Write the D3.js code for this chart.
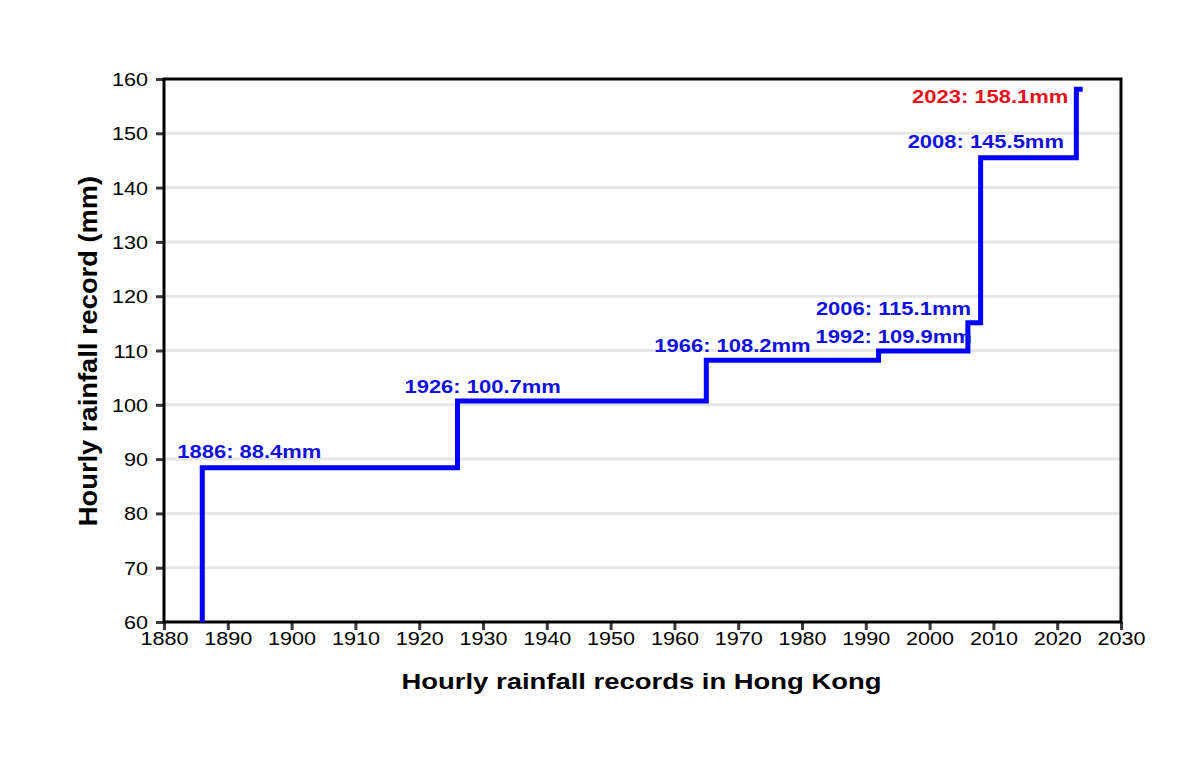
<!DOCTYPE html>
<html>
<head>
<meta charset="utf-8">
<script src="https://cdn.jsdelivr.net/npm/d3@7"></script>
<style>
  html, body { margin: 0; padding: 0; background: #fff; }
  svg { display: block; font-family: "Liberation Sans", Arial, sans-serif; }
</style>
</head>
<body>
<svg id="chart" width="1200" height="774"></svg>
<script>
// ---- data ----
const recordYears = [1886, 1926, 1966, 1992, 2006, 2008, 2023];   // label years
const stepYears   = [1886, 1926, 1965, 1992, 2006, 2008, 2023];   // where the step is drawn
const recordValues = [88.4, 100.7, 108.2, 109.9, 115.1, 145.5, 158.1];
const startValue = 60;
const endYear = 2024;
const xTicks = [1880, 1890, 1900, 1910, 1920, 1930, 1940, 1950, 1960, 1970, 1980, 1990, 2000, 2010, 2020, 2030];
const yTicks = [60, 70, 80, 90, 100, 110, 120, 130, 140, 150, 160];
const xTitle = "Hourly rainfall records in Hong Kong";
const yTitle = "Hourly rainfall record (mm)";

// ---- layout ----
const L = 164, R = 1121, T = 79, B = 622;
const svg = d3.select("#chart");
const x = d3.scaleLinear().domain([1880, 2030]).range([L, R]);
const y = d3.scaleLinear().domain([60, 160]).range([B, T]);
const SX = 1.2; // horizontal text stretch

// gridlines
svg.append("g").selectAll("line")
  .data(yTicks.filter(v => v > 60 && v < 160))
  .join("line")
  .attr("x1", L).attr("x2", R)
  .attr("y1", d => y(d)).attr("y2", d => y(d))
  .attr("stroke", "#e6e6e6").attr("stroke-width", 3);

// y axis ticks
const gy = svg.append("g").attr("transform", `translate(${L},0)`)
  .call(d3.axisLeft(y).tickValues(yTicks).tickSize(8).tickPadding(0).tickFormat(d3.format("d")));
gy.select(".domain").remove();
gy.selectAll(".tick line").attr("stroke", "#3a3a3a").attr("stroke-width", 3);
gy.selectAll(".tick text").each(function () {
  const t = d3.select(this);
  t.attr("x", null).attr("dy", null)
   .attr("transform", `translate(-16,6.5) scale(${SX},1)`)
   .attr("text-anchor", "end")
   .attr("font-size", 18).attr("fill", "#000")
   .attr("font-family", "Liberation Sans, Arial, sans-serif");
});

// x axis ticks
const gx = svg.append("g").attr("transform", `translate(0,${B})`)
  .call(d3.axisBottom(x).tickValues(xTicks).tickSize(8).tickPadding(0).tickFormat(d3.format("d")));
gx.select(".domain").remove();
gx.selectAll(".tick line").attr("stroke", "#3a3a3a").attr("stroke-width", 3);
gx.selectAll(".tick text").each(function () {
  const t = d3.select(this);
  t.attr("y", null).attr("dy", null)
   .attr("transform", `translate(0,23) scale(${SX},1)`)
   .attr("text-anchor", "middle")
   .attr("font-size", 18).attr("fill", "#000")
   .attr("font-family", "Liberation Sans, Arial, sans-serif");
});

// frame
svg.append("rect")
  .attr("x", L).attr("y", T).attr("width", R - L).attr("height", B - T)
  .attr("fill", "none").attr("stroke", "#000").attr("stroke-width", 3);

// step line
const pts = [[stepYears[0], startValue]];
stepYears.forEach((yr, i) => pts.push([yr, recordValues[i]]));
pts.push([endYear, recordValues[recordValues.length - 1]]);
const line = d3.line().x(d => x(d[0])).y(d => y(d[1])).curve(d3.curveStepAfter);
svg.append("path")
  .attr("d", line(pts))
  .attr("fill", "none").attr("stroke", "#0000ff").attr("stroke-width", 5)
  .attr("stroke-linejoin", "miter").attr("stroke-linecap", "butt");

// labels (pixel offsets from each step corner)
const labelOffsets = [[-25, -10], [-53, -8], [-52, -8], [-63, -8], [-152, -8], [-73, -10], [-8, 14]];
svg.append("g").selectAll("text")
  .data(recordYears.map((yr, i) => ({ yr, v: recordValues[i], sx: stepYears[i], i })))
  .join("text")
  .attr("transform", d => {
    const o = labelOffsets[d.i];
    return `translate(${x(d.sx) + o[0]},${y(d.v) + o[1]}) scale(${SX * 0.99},1)`;
  })
  .attr("text-anchor", d => d.i === recordYears.length - 1 ? "end" : "start")
  .attr("font-size", 18.5).attr("font-weight", "bold")
  .attr("fill", d => d.i === recordYears.length - 1 ? "#e8101a" : "#1010e0")
  .text(d => `${d.yr}: ${d.v}mm`);

// axis titles
svg.append("text")
  .attr("transform", `translate(${(L + R) / 2 - 1},689) scale(1.22,1)`)
  .attr("text-anchor", "middle")
  .attr("font-size", 22.5).attr("font-weight", "bold").attr("fill", "#000")
  .text(xTitle);

svg.append("text")
  .attr("transform", `translate(97,351) rotate(-90) scale(1.3,1.2)`)
  .attr("text-anchor", "middle")
  .attr("font-size", 21).attr("font-weight", "bold").attr("fill", "#000")
  .text(yTitle);
</script>
</body>
</html>
